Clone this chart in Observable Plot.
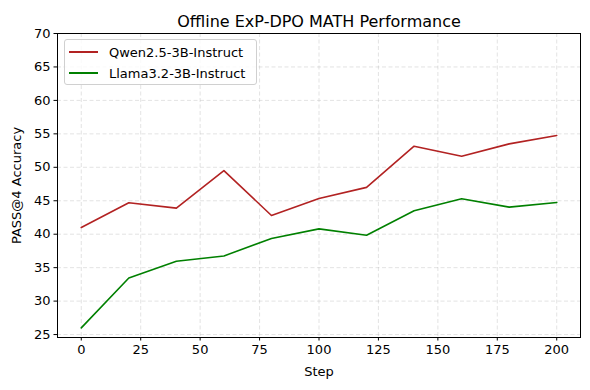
<!DOCTYPE html>
<html><head><meta charset="utf-8">
<script src="https://cdn.jsdelivr.net/npm/d3@7"></script>
<script src="https://cdn.jsdelivr.net/npm/@observablehq/plot@0.6"></script>
<style>
body{margin:0;background:#fff;font-family:"DejaVu Sans",sans-serif;}
#wrap{position:relative;width:590px;height:390px;}
#legend{position:absolute;left:64px;top:39px;width:193px;height:46px;box-sizing:border-box;border:1px solid #d0d0d0;border-radius:3px;background:rgba(255,255,255,0.8);}
.item{position:absolute;left:0;height:20px;display:flex;align-items:center;font-size:13px;color:#000;white-space:nowrap;}
.swatch{position:absolute;left:4px;width:29px;height:0;border-top:2px solid;}
.lab{position:absolute;left:44px;}
</style>
</head><body>
<div id="wrap"><div id="legend"></div></div>
<script>
const steps = [0, 20, 40, 60, 80, 100, 120, 140, 160, 180, 200];
const qwen = [41.0, 44.7, 43.9, 49.5, 42.8, 45.35, 47.0, 53.15, 51.65, 53.5, 54.75];
const llama = [26.0, 33.45, 35.95, 36.75, 39.35, 40.8, 39.85, 43.5, 45.3, 44.05, 44.75];
const seriesNames = ["Qwen2.5-3B-Instruct", "Llama3.2-3B-Instruct"];
const seriesColors = ["#b22222", "#008000"];
const xTicks = [0, 25, 50, 75, 100, 125, 150, 175, 200];
const yTicks = [25, 30, 35, 40, 45, 50, 55, 60, 65, 70];
const title = "Offline ExP-DPO MATH Performance";

const rows = [];
[qwen, llama].forEach((vals, i) => steps.forEach((s, j) => rows.push({step: s, value: vals[j], series: seriesNames[i]})));

const chart = Plot.plot({
  width: 590, height: 390,
  marginTop: 33, marginBottom: 53, marginLeft: 57, marginRight: 10,
  style: {fontFamily: "DejaVu Sans, sans-serif", fontSize: "13px", color: "#000", background: "#fff"},
  x: {domain: [-10, 210]},
  y: {domain: [24.56, 70]},
  color: {domain: seriesNames, range: seriesColors},
  marks: [
    Plot.gridX(xTicks, {stroke: "#b0b0b0", strokeOpacity: 0.45, strokeDasharray: "4,2.5", strokeWidth: 0.8}),
    Plot.gridY(yTicks, {stroke: "#b0b0b0", strokeOpacity: 0.45, strokeDasharray: "4,2.5", strokeWidth: 0.8}),
    Plot.axisX(xTicks, {tickSize: 3.5, tickPadding: 3.5, label: "Step", labelAnchor: "center", labelArrow: "none", labelOffset: 38, fontSize: 13}),
    Plot.axisY(yTicks, {tickSize: 3.5, tickPadding: 3.5, label: "PASS@4 Accuracy", labelAnchor: "center", labelArrow: "none", labelOffset: 46, fontSize: 13}),
    Plot.line(rows, {x: "step", y: "value", z: "series", stroke: "series", strokeWidth: 1.6}),
    Plot.frame({stroke: "#000", strokeWidth: 1}),
    Plot.text([title], {frameAnchor: "top", dy: -18, fontSize: 16, fill: "#000"})
  ]
});
document.getElementById("wrap").prepend(chart);

const leg = document.getElementById("legend");
seriesNames.forEach((n, i) => {
  const d = document.createElement("div");
  d.className = "item";
  d.style.top = (2 + i * 21) + "px";
  d.innerHTML = `<span class="swatch" style="border-color:${seriesColors[i]}"></span><span class="lab">${n}</span>`;
  leg.appendChild(d);
});
</script>
</body></html>
